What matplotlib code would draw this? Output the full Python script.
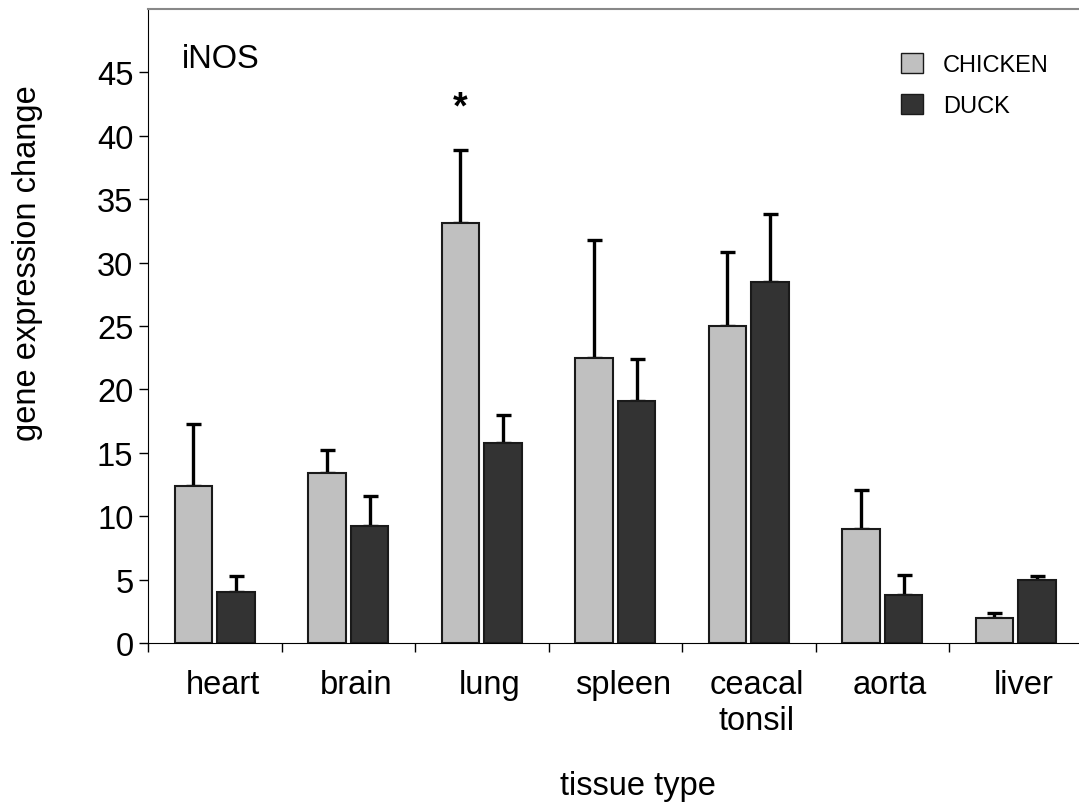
import numpy as np
import matplotlib.pyplot as plt
import matplotlib.transforms as mtransforms
from matplotlib.patches import Patch

plt.rcParams['font.family'] = ['Liberation Sans', 'DejaVu Sans']

tissues = ["heart", "brain", "lung", "spleen", "ceacal\ntonsil", "aorta", "liver"]
chicken = [12.4, 13.4, 33.1, 22.5, 25.0, 9.0, 1.95]
chicken_err = [4.9, 1.8, 5.8, 9.3, 5.8, 3.1, 0.45]
duck = [4.0, 9.2, 15.8, 19.1, 28.5, 3.8, 4.95]
duck_err = [1.3, 2.4, 2.2, 3.3, 5.3, 1.6, 0.35]
significant = [2]   # index of tissue marked with *

x = np.arange(len(tissues))
w = 0.28
off = 0.16
fs = 23.5

fig = plt.figure(figsize=(10.79, 8.03), dpi=100)
ax = fig.add_axes([148/1079, 159/803, 934.5/1079, 634/803])

ax.bar(x - off, chicken, w, color='#c0c0c0', edgecolor='#1a1a1a', linewidth=1.5, zorder=2)
ax.bar(x + off, duck, w, color='#333333', edgecolor='#1a1a1a', linewidth=1.5, zorder=2)
ax.errorbar(x - off, chicken, yerr=[np.zeros(len(x)), chicken_err], fmt='none',
            ecolor='black', elinewidth=2.4, capsize=5.4, capthick=2.4, zorder=1)
ax.errorbar(x + off, duck, yerr=[np.zeros(len(x)), duck_err], fmt='none',
            ecolor='black', elinewidth=2.4, capsize=5.4, capthick=2.4, zorder=1)

for i in significant:
    ax.text(x[i] - off, chicken[i] + chicken_err[i] + 3.3, "*", ha='center', va='center',
            fontsize=27, fontweight='bold')

ax.set_xlim(-0.5, len(tissues) - 0.5)
ax.set_ylim(0, 50)
ax.set_yticks(np.arange(0, 50, 5))
ax.set_xticks(x)
ax.set_xticklabels(tissues, fontsize=fs)
ax.set_xticks(np.arange(-0.5, len(tissues)), minor=True)
ax.tick_params(axis='x', which='major', length=0, pad=19)
ax.tick_params(axis='x', which='minor', length=6.5, width=1, direction='out')
ax.tick_params(axis='y', labelsize=fs, length=6.5, width=1, pad=4)

# category names sit a little right of the group centres
shift = mtransforms.ScaledTranslation(8/100, 0, fig.dpi_scale_trans)
for lbl in ax.get_xticklabels():
    lbl.set_transform(lbl.get_transform() + shift)

ax.spines['right'].set_visible(False)
ax.spines['top'].set_color('#888888')
ax.spines['top'].set_linewidth(1.5)

fig.text(182/1079, (803-68)/803, "iNOS", fontsize=fs, va='baseline')
fig.text(638/1079, (803-795)/803, "tissue type", fontsize=fs, ha='center', va='baseline')
fig.text(28/1079, (803-263)/803, "gene expression change", fontsize=fs, rotation=90,
         ha='center', va='center')

handles = [Patch(facecolor='#c0c0c0', edgecolor='#1a1a1a', label='CHICKEN'),
           Patch(facecolor='#333333', edgecolor='#1a1a1a', label='DUCK')]
fig.legend(handles=handles, loc='upper left', bbox_to_anchor=(901/1079, 1 - 54/803),
           frameon=False, fontsize=17, handlelength=0.93, handleheight=0.93,
           handletextpad=0.85, labelspacing=0.75, borderpad=0, borderaxespad=0)

fig.savefig("out.png", dpi=100)
